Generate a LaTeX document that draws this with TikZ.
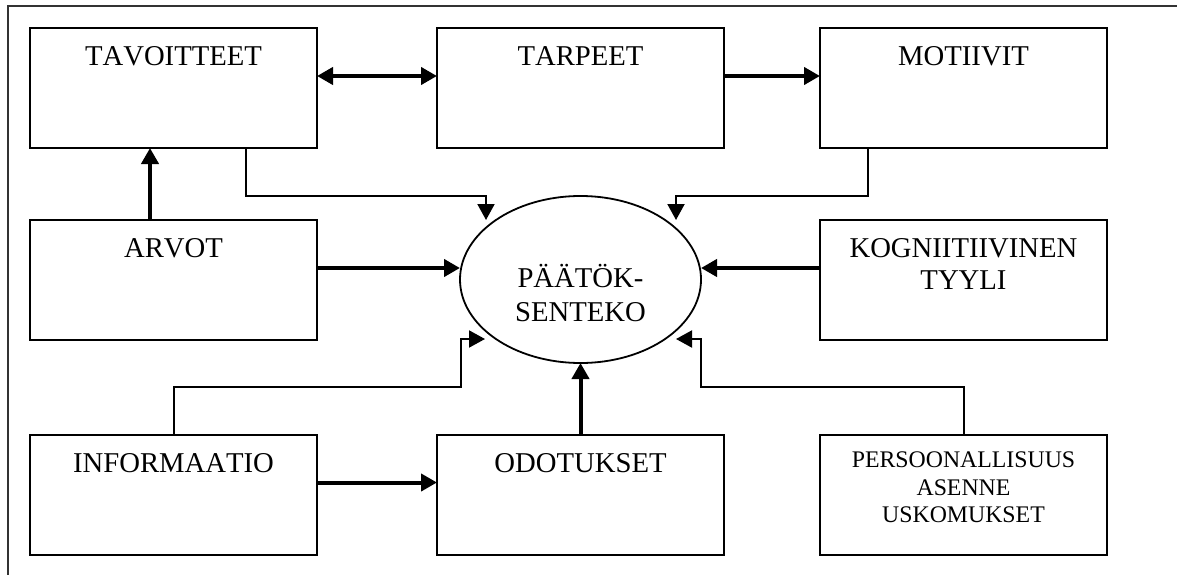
\documentclass[tikz,border=0pt]{standalone}
\usepackage{fontspec}
\setmainfont{Liberation Serif}[Kerning=Off]
\usetikzlibrary{shapes.geometric}
\usetikzlibrary{arrows.meta}
\tikzset{
    box/.style = {rectangle, draw=black, line width=2pt, minimum width=287pt, minimum height=120pt, inner sep=0pt, outer sep=0pt},
    boxtext/.style = {anchor=north, yshift=-18.5pt, inner sep=0pt, align=center, font=\fontsize{28.7}{32}\selectfont},
    smalltext/.style = {anchor=north, yshift=-17pt, inner sep=0pt, align=center, font=\fontsize{23.8}{27.5}\selectfont},
    ellnode/.style = {ellipse, draw=black, line width=1.8pt, minimum width=241pt, minimum height=167pt, inner sep=0pt, outer sep=0pt},
    elltext/.style = {anchor=center, yshift=-13.7pt, inner sep=0pt, align=center, font=\fontsize{28.7}{33.5}\selectfont},
    frame/.style = {line width=1.3pt, black!80},
    edgen/.style = {-{Triangle[length=16pt,width=17pt]}, line width=4pt}, % thick
    edgeb/.style = {{Triangle[length=16pt,width=17pt]}-{Triangle[length=16pt,width=17pt]}, line width=4pt}, % both ways
    edget/.style = {-{Triangle[length=16pt,width=17pt]}, line width=2pt} % elbow
}

\begin{document}
\begin{tikzpicture}[x=1pt,y=-1pt]
\useasboundingbox (0,0) rectangle (1177,575);
\draw[frame] (8,575) -- (8,6) -- (1177,6);
%
\node[box, label={[boxtext]north:TAVOITTEET}] at (173.5,88) (tav) {};
\node[box, label={[boxtext]north:TARPEET}] at (580.5,88) (tar) {};
\node[box, label={[boxtext]north:MOTIIVIT}] at (963.5,88) (mot) {};
\node[box, label={[boxtext]north:ARVOT}] at (173.5,279.5) (arv) {};
\node[box, label={[boxtext]north:KOGNIITIIVINEN\\TYYLI}] at (963.5,279.5) (kog) {};
\node[box, label={[boxtext]north:INFORMAATIO}] at (173.5,495) (inf) {};
\node[box, label={[boxtext]north:ODOTUKSET}] at (580.5,495) (odo) {};
\node[box, label={[smalltext]north:PERSOONALLISUUS\\ASENNE\\USKOMUKSET}] at (963.5,495) (per) {};
\node[ellnode, label={[elltext]center:PÄÄTÖK-\\SENTEKO}] at (580.5,279.5) (dec) {};
%
\coordinate (tl) at (486,220);
\coordinate (tr) at (676,220);
\coordinate (bl) at (485,339);
\coordinate (br) at (676,339);
%
\draw[edgeb] ([yshift=12pt]tav.east) -- ([yshift=12pt]tar.west);
\draw[edgen] ([yshift=12pt]tar.east) -- ([yshift=12pt]mot.west);
\draw[edgen] ([xshift=-23.5pt]arv.north) -- ([xshift=-23.5pt]tav.south);
\draw[edgen] ([yshift=11.5pt]arv.east) -- ([yshift=11.5pt]dec.west);
\draw[edgen] ([yshift=11.5pt]kog.west) -- ([yshift=11.5pt]dec.east);
\draw[edgen] (odo.north) -- (dec.south);
\draw[edgen] ([yshift=12.5pt]inf.east) -- ([yshift=12.5pt]odo.west);
\draw[edget] ([xshift=72pt]tav.south) -- ++(0,48) -| (tl);
\draw[edget] ([xshift=-95.5pt]mot.south) -- ++(0,48) -| (tr);
\draw[edget] (inf.north) -- ++(0,-48) -| ([xshift=-24pt]bl) -- (bl);
\draw[edget] (per.north) -- ++(0,-48) -| ([xshift=25pt]br) -- (br);

\end{tikzpicture}
\end{document}
